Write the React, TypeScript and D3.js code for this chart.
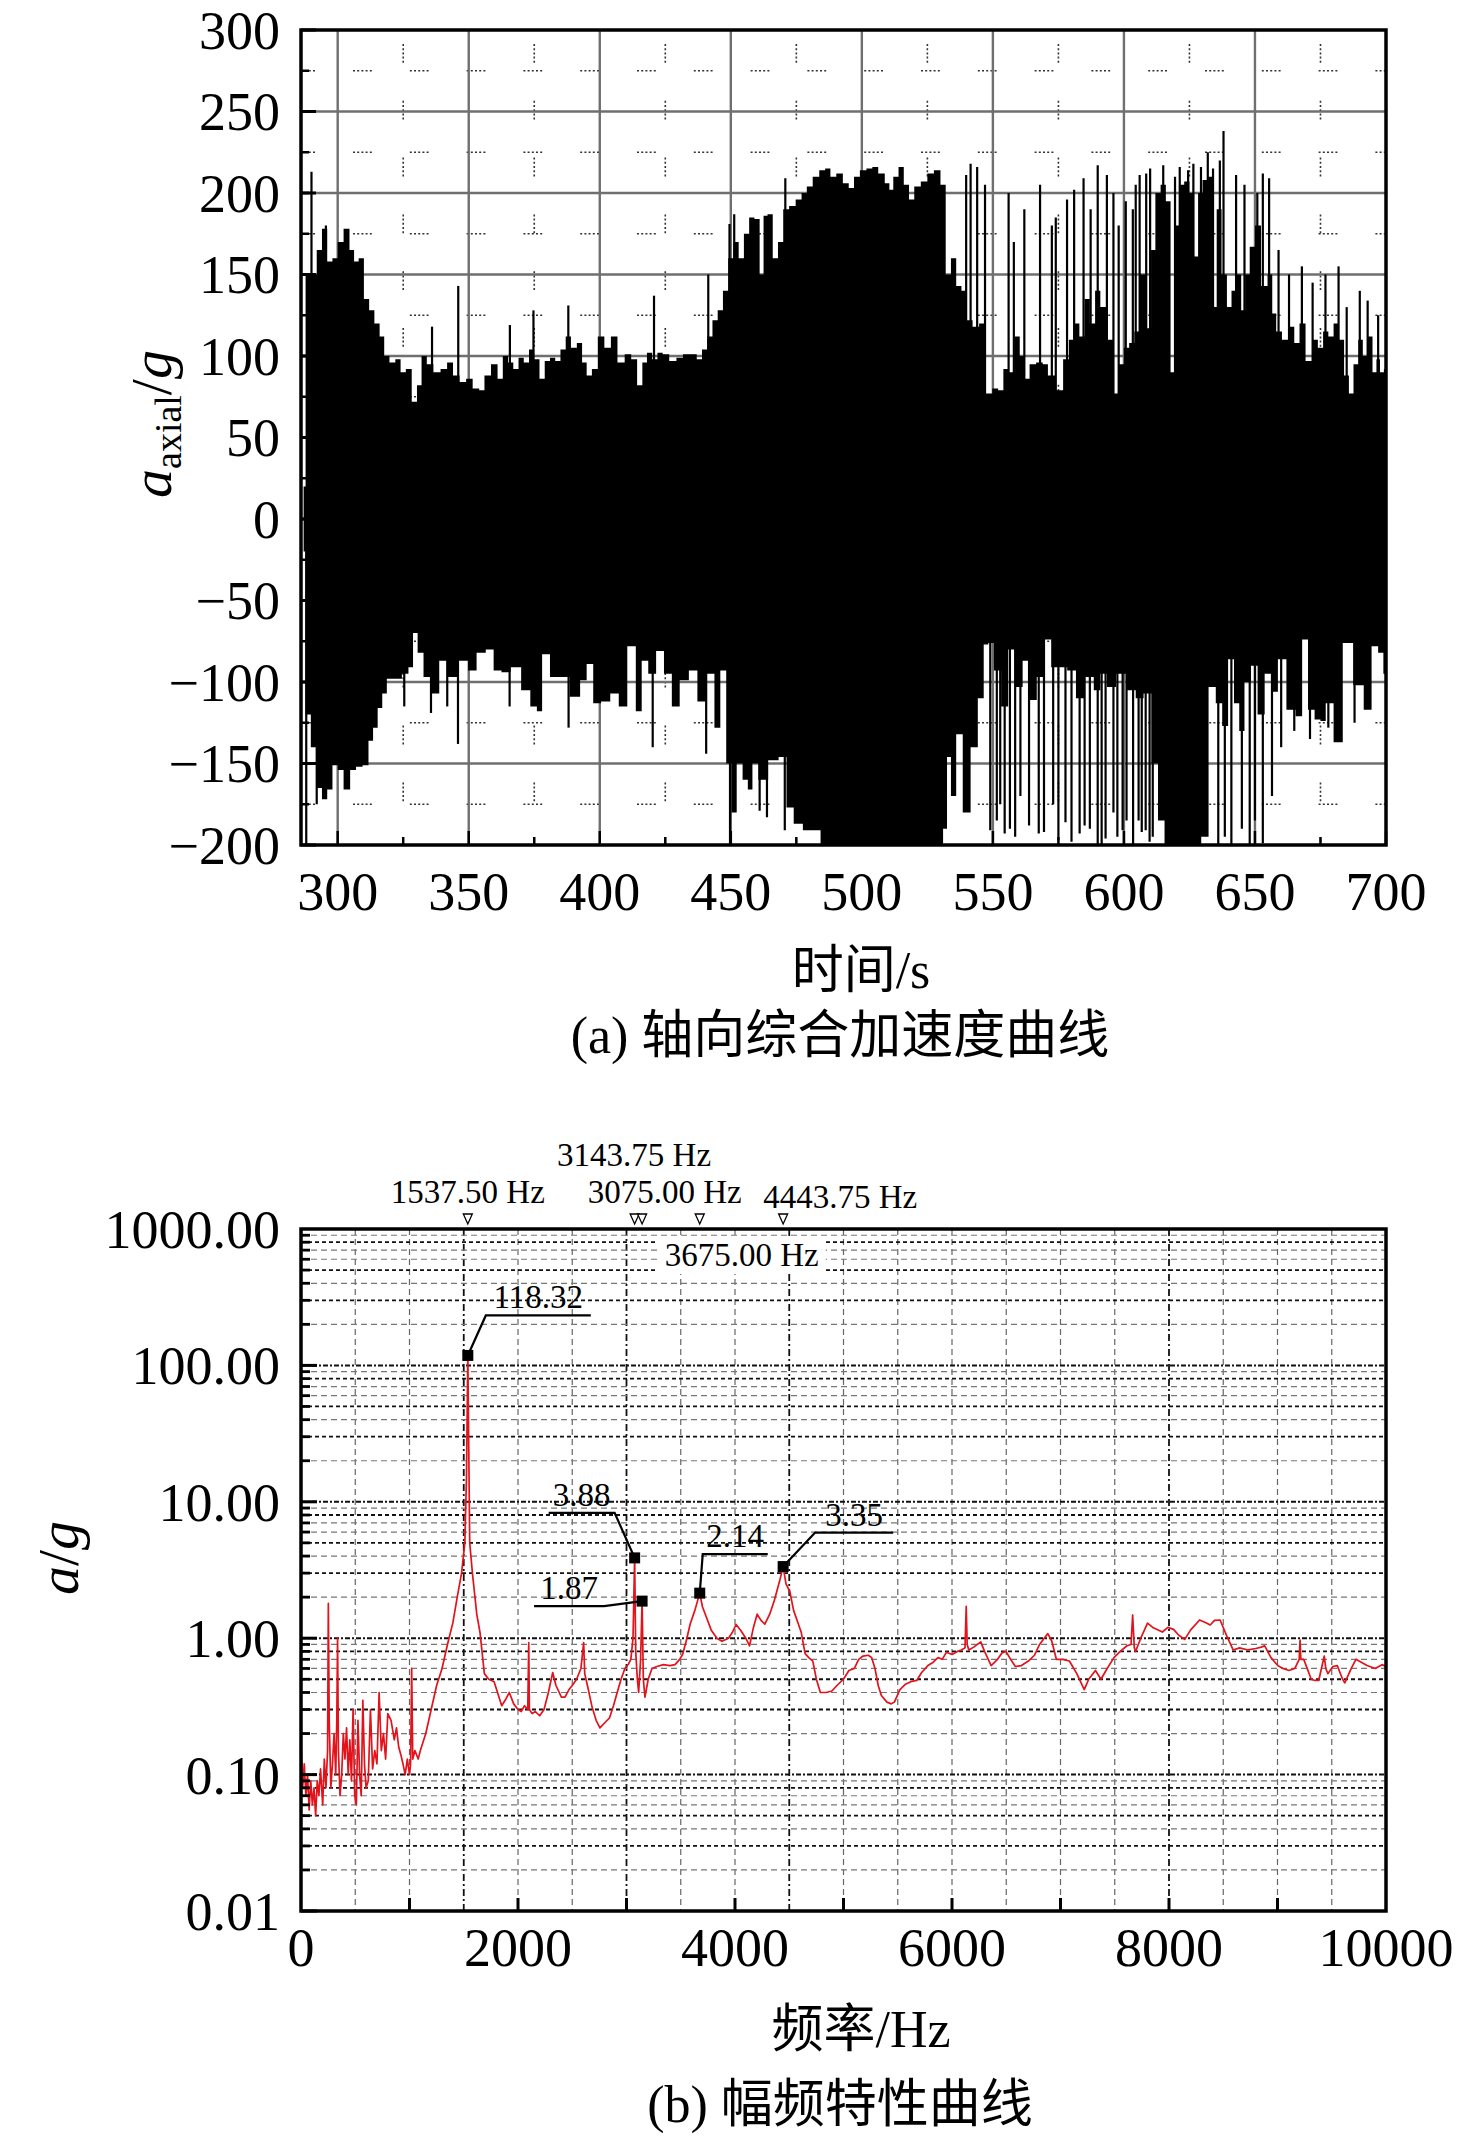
import React from 'react';
import * as d3 from 'd3';

const W = 1476;
const H = 2138;

// ---------- (a) axial acceleration: bulk envelope + spikes ----------
const upperT = [287, 288.5, 291, 293, 295, 297, 299, 301, 303.5, 305.5, 307, 309, 311, 313, 315, 317, 318.5, 321, 323, 325, 327, 329.5, 331, 333, 335, 338, 340.5, 343, 345, 348, 350, 353, 355, 357, 360, 362, 364, 366, 368, 370, 372, 374, 376, 378, 380, 382, 384, 386, 388, 390, 392.5, 394, 396, 398, 400.5, 403, 405.5, 408, 411, 413, 415.5, 417, 419, 421, 423, 425, 428, 430.5, 433, 436, 438, 440, 442, 444, 446, 448, 450, 452, 454, 456, 458, 460, 462, 463, 465, 467, 469, 471, 473.5, 476, 478, 480, 482.5, 485, 487, 489, 491.5, 494, 496, 498, 500.5, 503, 505, 507.5, 510, 511, 513, 515, 517, 519, 521, 524, 526, 529, 531, 533, 535, 537, 539, 541, 543.5, 546, 548.5, 551, 553, 555, 557, 559.5, 561, 563, 565, 568, 570, 572, 575.6, 578, 580, 582, 584, 586, 588, 590, 592, 595, 597, 599, 601, 603, 605, 607, 609.7, 611, 613, 615, 617, 618.6, 620, 622, 624, 626, 627.6, 629, 631, 633, 634.8, 636, 638.5, 640.1, 642, 644, 645.5, 647, 649, 651, 653.6, 656, 657.2, 659, 661.6, 664, 666, 668, 670.6, 673, 675, 677, 679, 681, 683, 685, 686.7, 688.5, 690.3, 692, 694, 695.7, 697, 698.4, 700];
const upperV = [20, 150, 150, 165, 178, 158, 160, 170, 178, 165, 158, 160, 135, 128, 120, 112, 100, 96, 98, 90, 92, 72, 82, 100, 95, 90, 92, 96, 88, 84, 86, 80, 79, 88, 95, 86, 100, 96, 92, 99, 96, 104, 98, 86, 97, 99, 97, 104, 112, 105, 108, 96, 88, 92, 112, 105, 112, 96, 101, 98, 82, 96, 102, 98, 102, 101, 97, 99, 101, 101, 98, 104, 112, 122, 128, 140, 160, 170, 160, 175, 185, 184, 150, 186, 187, 160, 170, 190, 192, 196, 200, 204, 210, 214, 215, 210, 212, 206, 203, 210, 214, 215, 216, 212, 206, 202, 210, 216, 205, 196, 204, 207, 212, 214, 205, 150, 160, 143, 140, 122, 118, 120, 77, 80, 79, 92, 90, 112, 100, 86, 95, 96, 95, 88, 79, 98, 110, 120, 112, 135, 120, 140, 130, 110, 77, 95, 105, 108, 115, 150, 117, 165, 200, 205, 195, 90, 180, 205, 207, 200, 161, 200, 208, 210, 130, 190, 150, 130, 140, 150, 128, 150, 167, 180, 143, 150, 126, 115, 110, 118, 108, 120, 97, 110, 105, 115, 112, 120, 110, 88, 77, 95, 110, 100, 112, 90, 98, 90, 92];

const lowerT = [287, 288.5, 291, 293, 295, 297, 299, 301, 303.5, 306, 308, 311, 312.5, 314.5, 316, 318, 319.5, 323, 326, 328, 329.5, 331.5, 334, 337.5, 340, 344, 348.5, 351, 355, 358, 361, 364, 368, 372, 375, 377, 379, 383, 386, 391, 394, 396, 399, 402, 406, 408.5, 412.5, 415, 417, 420, 423, 426, 429, 432, 436, 438.5, 442.5, 445, 447, 449.5, 451, 453.5, 455.5, 457.5, 459, 462, 466.5, 470, 472.5, 475.5, 479.5, 483.5, 485, 530, 532, 533, 535, 537, 540, 543, 545.5, 547.5, 549, 551.8, 554.5, 557.2, 560, 562.7, 565.4, 568.1, 570.9, 573.6, 576.3, 580.4, 583, 587, 590, 592, 595, 599, 603, 606, 609, 612, 614, 617, 620, 622, 625, 628, 631, 633.6, 636.5, 638.5, 641, 643, 645, 647, 650, 652, 655.4, 657.5, 660, 664, 667, 669, 671.5, 674, 676, 678, 682, 685, 690, 693, 696, 698, 700];
const lowerV = [-20, -120, -140, -165, -172, -166, -151, -154, -166, -154, -152, -151, -136, -128, -116, -107, -98, -98, -95, -91, -70, -82, -97, -107, -87, -97, -87, -93, -82, -80, -93, -94, -91, -105, -115, -118, -83, -97, -97, -109, -99, -89, -113, -112, -107, -115, -78, -118, -87, -95, -81, -95, -115, -99, -93, -112, -95, -128, -93, -150, -180, -150, -160, -166, -150, -160, -148, -146, -177, -187, -191, -191, -200, -200, -190, -146, -170, -132, -180, -140, -110, -77, -76, -93, -115, -80, -103, -87, -111, -97, -74, -91, -91, -93, -110, -97, -105, -95, -103, -95, -105, -110, -107, -150, -185, -200, -200, -200, -200, -200, -195, -103, -113, -127, -86, -113, -130, -100, -90, -120, -95, -106, -86, -117, -121, -74, -117, -123, -124, -113, -137, -76, -102, -117, -78, -82, -95];

const upSpikeT = [290, 295.5, 336, 346, 365.7, 374.7, 388, 420.7, 441.4, 449.5, 451.3, 470.8, 539.8, 541.5, 544, 547, 556, 558, 562, 568, 572.5, 574, 578.3, 581, 584.6, 587.3, 590, 593.5, 596, 598, 600.7, 603.4, 604.5, 606, 608.5, 610, 615, 619.5, 621.3, 624.5, 626.5, 629.4, 632, 634, 636.6, 638, 642.8, 646, 650.9, 653, 655.4, 659, 663, 667.9, 672, 676.9, 681.9, 685, 690, 693, 697];
const upSpikeV = [213, 180, 118, 143, 119, 128, 131, 137, 150, 181, 187, 209, 211, 218, 216, 205, 200, 170, 190, 205, 180, 185, 196, 202, 209, 190, 217, 211, 200, 180, 195, 190, 205, 211, 212, 215, 217, 210, 216, 214, 218, 216, 225, 215, 220, 238, 211, 205, 200, 212, 209, 165, 150, 155, 145, 150, 155, 130, 140, 134, 125];

const lowSpikeT = [288, 292, 325.4, 335.6, 341.8, 345.9, 365.6, 388.1, 420.2, 440.6, 449.7, 461, 463.8, 470.6, 549, 551.5, 552.8, 554.5, 556.5, 558.5, 560.5, 563.8, 567.5, 569.5, 573, 575, 577.7, 580, 583.1, 585, 587, 590, 591.5, 593, 596, 597.5, 599.5, 601, 603.5, 605.6, 606.8, 608.3, 609.8, 611, 636, 638.5, 641, 645, 648, 650, 653, 656.5, 660, 665, 671, 678, 688];
const lowSpikeV = [-200, -175, -115, -119, -115, -138, -115, -128, -140, -144, -200, -179, -183, -191, -191, -185, -175, -193, -190, -195, -170, -188, -193, -192, -175, -197, -186, -198, -193, -188, -190, -200, -200, -196, -180, -195, -191, -185, -200, -185, -192, -191, -198, -195, -200, -195, -200, -190, -200, -185, -199, -170, -140, -130, -135, -128, -125];

const timeTicks = [300, 350, 400, 450, 500, 550, 600, 650, 700];
const accelTicks = [300, 250, 200, 150, 100, 50, 0, -50, -100, -150, -200];

// ---------- (b) amplitude-frequency ----------
const freqHz = [0, 15, 30, 45, 60, 75, 90, 105, 120, 135, 150, 165, 180, 200, 215, 230, 245, 252, 260, 275, 290, 305, 320, 330, 337, 345, 360, 375, 390, 405, 420, 435, 450, 465, 480, 495, 510, 525, 540, 555, 570, 585, 600, 620, 640, 660, 680, 700, 720, 740, 760, 780, 800, 830, 860, 880, 900, 920, 940, 960, 980, 1000, 1010, 1020, 1030, 1050, 1080, 1100, 1150, 1200, 1250, 1300, 1350, 1400, 1440, 1480, 1510, 1525, 1537.5, 1545, 1555, 1580, 1620, 1650, 1690, 1730, 1780, 1820, 1850, 1890, 1920, 1960, 2000, 2030, 2060, 2090, 2099, 2105, 2130, 2160, 2200, 2240, 2280, 2320, 2350, 2400, 2433, 2470, 2500, 2540, 2580, 2605, 2615, 2640, 2684, 2720, 2755, 2800, 2843, 2880, 2914, 2950, 2985, 3020, 3040, 3060, 3075, 3085, 3100, 3112, 3130, 3143.75, 3155, 3170, 3200, 3235, 3280, 3340, 3400, 3447, 3490, 3517, 3550, 3587, 3630, 3675, 3700, 3740, 3780, 3833, 3880, 3940, 3975, 4010, 4050, 4100, 4134, 4170, 4204, 4240, 4275, 4320, 4363, 4410, 4443.75, 4470, 4505, 4540, 4580, 4611, 4646, 4680, 4717, 4750, 4787, 4840, 4893, 4940, 4999, 5050, 5100, 5140, 5180, 5229, 5260, 5290, 5320, 5349, 5400, 5440, 5469, 5520, 5572, 5620, 5675, 5720, 5778, 5820, 5870, 5910, 5949, 6000, 6050, 6086, 6120, 6131, 6140, 6155, 6200, 6265, 6300, 6361, 6420, 6460, 6498, 6540, 6584, 6640, 6704, 6760, 6807, 6850, 6883, 6920, 6962, 7020, 7082, 7150, 7219, 7260, 7322, 7373, 7430, 7493, 7550, 7613, 7650, 7665, 7680, 7692, 7740, 7802, 7850, 7900, 7939, 7990, 8042, 8090, 8145, 8200, 8282, 8340, 8380, 8419, 8471, 8530, 8591, 8650, 8728, 8800, 8850, 8882, 8940, 9002, 9050, 9105, 9160, 9200, 9208, 9215, 9242, 9311, 9345, 9380, 9431, 9445, 9465, 9510, 9551, 9600, 9620, 9680, 9723, 9780, 9826, 9900, 9963, 10000];
const ampG = [0.17, 0.08, 0.12, 0.07, 0.1, 0.055, 0.09, 0.06, 0.08, 0.05, 0.09, 0.07, 0.11, 0.06, 0.13, 0.08, 0.15, 1.8, 0.25, 0.08, 0.12, 0.2, 0.1, 0.25, 1.0, 0.15, 0.07, 0.1, 0.2, 0.13, 0.22, 0.1, 0.18, 0.09, 0.3, 0.07, 0.06, 0.25, 0.1, 0.07, 0.35, 0.12, 0.08, 0.09, 0.3, 0.11, 0.15, 0.12, 0.4, 0.15, 0.2, 0.13, 0.28, 0.25, 0.18, 0.22, 0.16, 0.14, 0.12, 0.1, 0.13, 0.1, 0.12, 0.6, 0.13, 0.15, 0.13, 0.15, 0.2, 0.3, 0.45, 0.6, 0.9, 1.3, 2.0, 3.0, 5, 15, 118.32, 30, 5, 3, 1.5, 1.1, 0.55, 0.5, 0.48, 0.38, 0.32, 0.36, 0.4, 0.33, 0.3, 0.29, 0.32, 0.3, 0.93, 0.3, 0.28, 0.29, 0.27, 0.3, 0.4, 0.56, 0.45, 0.37, 0.37, 0.42, 0.45, 0.5, 0.6, 0.93, 0.55, 0.45, 0.31, 0.25, 0.22, 0.24, 0.26, 0.32, 0.4, 0.5, 0.6, 0.65, 0.7, 1.0, 3.88, 0.8, 0.5, 0.4, 0.7, 1.87, 0.5, 0.37, 0.5, 0.6, 0.62, 0.64, 0.63, 0.64, 0.7, 0.76, 0.95, 1.27, 1.6, 2.14, 1.7, 1.4, 1.15, 1.0, 0.95, 1.0, 1.1, 1.26, 1.15, 1.0, 0.88, 1.2, 1.5, 1.35, 1.27, 1.5, 1.9, 2.6, 3.35, 2.5, 2.2, 1.6, 1.3, 1.1, 0.77, 0.72, 0.68, 0.5, 0.4, 0.4, 0.41, 0.45, 0.5, 0.58, 0.6, 0.7, 0.74, 0.75, 0.72, 0.6, 0.45, 0.38, 0.34, 0.33, 0.34, 0.42, 0.46, 0.48, 0.49, 0.56, 0.63, 0.66, 0.72, 0.7, 0.79, 0.76, 0.8, 0.82, 0.85, 1.71, 0.9, 0.82, 0.86, 0.94, 0.8, 0.63, 0.7, 0.78, 0.8, 0.7, 0.62, 0.63, 0.68, 0.75, 0.9, 1.0, 1.08, 0.95, 0.7, 0.7, 0.68, 0.55, 0.42, 0.5, 0.58, 0.5, 0.6, 0.72, 0.8, 0.88, 0.9, 1.48, 0.85, 0.8, 1.0, 1.29, 1.2, 1.15, 1.11, 1.2, 1.16, 1.05, 0.98, 1.15, 1.36, 1.3, 1.25, 1.35, 1.36, 1.05, 0.82, 0.85, 0.82, 0.84, 0.86, 0.88, 0.72, 0.63, 0.6, 0.58, 0.6, 0.7, 0.97, 0.7, 0.7, 0.5, 0.49, 0.49, 0.74, 0.6, 0.55, 0.62, 0.63, 0.5, 0.47, 0.6, 0.7, 0.66, 0.63, 0.6, 0.64, 0.62];

const peakFreq = [1537.5, 3075, 3143.75, 3675, 4443.75];
const peakAmp = [118.32, 3.88, 1.87, 2.14, 3.35];
const peakLabels = ['118.32', '3.88', '1.87', '2.14', '3.35'];
const markerFreqLabels = ['1537.50 Hz', '3075.00 Hz', '3143.75 Hz', '3675.00 Hz', '4443.75 Hz'];

const freqTicks = [0, 2000, 4000, 6000, 8000, 10000];
const ampTicks = [1000, 100, 10, 1, 0.1, 0.01];
const ampTickLabels = ['1000.00', '100.00', '10.00', '1.00', '0.10', '0.01'];

// ---------- layout ----------
const PL = 301, PR = 1386;
const A_TOP = 30, A_BOT = 845;
const B_TOP = 1229, B_BOT = 1911;
const SERIF = '"Liberation Serif", "Times New Roman", serif';
const CJK = '"Liberation Serif", "Noto Sans CJK SC", serif';

// callout layout (elbow dx, elbow dy, horizontal length)
const calloutGeom = [
  [18, -40, 105],
  [-20, -45, -66],
  [-38, 5, -70],
  [3, -39, 65],
  [32, -34, 78],
];
// marker frequency label layout (x offset from marker, baseline y)
const freqLabelGeom = [
  [0, 1203],
  [30, 1203],
  [-8, 1166],
  [42, 1266],
  [57, 1208],
];

export default function App() {
  const xt = d3.scaleLinear().domain([286, 700]).range([PL, PR]);
  const ya = d3.scaleLinear().domain([-200, 300]).range([A_BOT, A_TOP]);

  const xf = d3.scaleLinear().domain([0, 10000]).range([PL, PR]);
  const yl = d3.scaleLog().domain([0.01, 1000]).range([B_BOT, B_TOP]);

  const upperArea = d3.area<number>()
    .curve(d3.curveStep)
    .x((_, i) => xt(upperT[i]))
    .y0(() => ya(0))
    .y1((d) => ya(d))(upperV) || '';
  const lowerArea = d3.area<number>()
    .curve(d3.curveStep)
    .x((_, i) => xt(lowerT[i]))
    .y0(() => ya(0))
    .y1((d) => ya(d))(lowerV) || '';

  const specLine = d3.line<number>()
    .x((_, i) => xf(freqHz[i]))
    .y((d) => yl(d))(ampG) || '';

  // grid values for (a)
  const majorY = d3.range(-150, 300, 50);
  const minorY = d3.range(-175, 300, 50);
  const majorX = d3.range(300, 700, 50);
  const minorX = d3.range(325, 700, 50);
  const minorTickY = d3.range(-175, 300, 25);
  const minorTickX = d3.range(300, 701, 25);

  // grid values for (b)
  const vGrid = d3.range(500, 10000, 500);
  const darkV = new Set([1500, 3000, 4500, 8000]);
  const decades = [0.01, 0.1, 1, 10, 100];
  const minorLog: { v: number; dark: boolean }[] = [];
  decades.forEach((d) => {
    for (let m = 2; m <= 9; m++) minorLog.push({ v: d * m, dark: [3, 5, 8].includes(m) });
  });

  const dotted = '2,2.2,2,2.2,2,2.2,2,2.2,2,38';

  return (
    <svg width={W} height={H} viewBox={`0 0 ${W} ${H}`}
      style={{ position: 'absolute', left: 0, top: 0, background: '#fff' }}
      xmlns="http://www.w3.org/2000/svg">
      <defs>
        <clipPath id="clipA"><rect x={PL} y={A_TOP} width={PR - PL} height={A_BOT - A_TOP} /></clipPath>
        <clipPath id="clipB"><rect x={PL} y={B_TOP} width={PR - PL} height={B_BOT - B_TOP} /></clipPath>
      </defs>
      <rect x={0} y={0} width={W} height={H} fill="#fff" />

      {/* ================= (a) ================= */}
      <g>
        {minorY.map((v) => (
          <line key={'mny' + v} x1={PL} x2={PR} y1={ya(v)} y2={ya(v)} stroke="#333" strokeWidth={1.6}
            strokeDasharray={dotted} strokeDashoffset={-52} />
        ))}
        {minorX.map((t) => (
          <line key={'mnx' + t} x1={xt(t)} x2={xt(t)} y1={A_TOP} y2={A_BOT} stroke="#333" strokeWidth={1.6}
            strokeDasharray={dotted} strokeDashoffset={-14} />
        ))}
        {majorY.map((v) => (
          <line key={'mjy' + v} x1={PL} x2={PR} y1={ya(v)} y2={ya(v)} stroke="#6f6f6f" strokeWidth={2.4} />
        ))}
        {majorX.map((t) => (
          <line key={'mjx' + t} x1={xt(t)} x2={xt(t)} y1={A_TOP} y2={A_BOT} stroke="#6f6f6f" strokeWidth={2.4} />
        ))}
        <g clipPath="url(#clipA)">
          <path d={upperArea} fill="#000" />
          <path d={lowerArea} fill="#000" />
          {upSpikeT.map((t, i) => (
            <line key={'us' + i} x1={xt(t)} x2={xt(t)} y1={ya(0)} y2={ya(upSpikeV[i])} stroke="#000" strokeWidth={2.2} />
          ))}
          {lowSpikeT.map((t, i) => (
            <line key={'ls' + i} x1={xt(t)} x2={xt(t)} y1={ya(0)} y2={ya(lowSpikeV[i])} stroke="#000" strokeWidth={2.2} />
          ))}
        </g>
        {/* ticks */}
        {accelTicks.map((v) => (
          <line key={'ty' + v} x1={PL} x2={PL + 15} y1={ya(v)} y2={ya(v)} stroke="#000" strokeWidth={3} />
        ))}
        {minorTickY.map((v) => (
          <line key={'tmy' + v} x1={PL} x2={PL + 8} y1={ya(v)} y2={ya(v)} stroke="#000" strokeWidth={2.5} />
        ))}
        {minorTickX.map((t) => (
          <line key={'tx' + t} x1={xt(t)} x2={xt(t)} y1={A_BOT} y2={A_BOT - (t % 50 === 0 ? 14 : 8)} stroke="#000" strokeWidth={2.5} />
        ))}
        <rect x={PL} y={A_TOP} width={PR - PL} height={A_BOT - A_TOP} fill="none" stroke="#000" strokeWidth={3.5} />
        {accelTicks.map((v) => (
          <text key={'ly' + v} x={280} y={ya(v)} dy="0.35em" textAnchor="end" fontFamily={SERIF} fontSize={54}>
            {v < 0 ? '\u2212' + Math.abs(v) : String(v)}
          </text>
        ))}
        {timeTicks.map((t) => (
          <text key={'lx' + t} x={xt(t)} y={910} textAnchor="middle" fontFamily={SERIF} fontSize={54}>{t}</text>
        ))}
        <text transform="translate(171,424) rotate(-90)" textAnchor="middle" fontFamily={SERIF} fontSize={58}>
          <tspan fontStyle="italic">a</tspan>
          <tspan fontSize={38} dy={10}>axial</tspan>
          <tspan dy={-10}>/</tspan>
          <tspan fontStyle="italic">g</tspan>
        </text>
        <text x={861} y={988} textAnchor="middle" fontFamily={CJK} fontSize={52}>时间/s</text>
        <text x={840} y={1053} textAnchor="middle" fontFamily={CJK} fontSize={52}>(a) 轴向综合加速度曲线</text>
      </g>

      {/* ================= (b) ================= */}
      <g>
        {vGrid.map((f) => (
          <line key={'vg' + f} x1={xf(f)} x2={xf(f)} y1={B_TOP} y2={B_BOT}
            stroke={darkV.has(f) ? '#111' : '#666'} strokeWidth={darkV.has(f) ? 1.8 : 1.2}
            strokeDasharray={darkV.has(f) ? '7,3,2,3' : '6,4'} />
        ))}
        {minorLog.map((m, i) => (
          <line key={'hg' + i} x1={PL} x2={PR} y1={yl(m.v)} y2={yl(m.v)}
            stroke={m.dark ? '#111' : '#777'} strokeWidth={m.dark ? 1.8 : 1.2}
            strokeDasharray={m.dark ? '4,3' : '6,4'} />
        ))}
        {decades.slice(1).map((d) => (
          <line key={'dg' + d} x1={PL} x2={PR} y1={yl(d)} y2={yl(d)} stroke="#111" strokeWidth={2}
            strokeDasharray="5,2,2,2" />
        ))}
        <g clipPath="url(#clipB)">
          <path d={specLine} fill="none" stroke="#e3121b" strokeWidth={1.7} strokeLinejoin="round" />
        </g>
        {/* left ticks */}
        {decades.map((d) => (
          <line key={'ld' + d} x1={PL} x2={PL + 16} y1={yl(d)} y2={yl(d)} stroke="#000" strokeWidth={3} />
        ))}
        {minorLog.map((m, i) => (
          <line key={'lm' + i} x1={PL} x2={PL + 9} y1={yl(m.v)} y2={yl(m.v)} stroke="#000" strokeWidth={2.8} />
        ))}
        {d3.range(1000, 10000, 1000).map((f) => (
          <line key={'bt' + f} x1={xf(f)} x2={xf(f)} y1={B_BOT} y2={B_BOT - 13} stroke="#000" strokeWidth={3} />
        ))}
        <rect x={PL} y={B_TOP} width={PR - PL} height={B_BOT - B_TOP} fill="none" stroke="#000" strokeWidth={3.5} />

        {/* marker triangles above plot */}
        {peakFreq.map((f, i) => {
          const x = xf(f);
          return (
            <path key={'tri' + i} d={`M${x - 4.5},${B_TOP - 15} L${x + 4.5},${B_TOP - 15} L${x},${B_TOP - 5} Z`}
              fill="#fff" stroke="#000" strokeWidth={1.3} />
          );
        })}
        {/* marker frequency labels */}
        {markerFreqLabels.map((s, i) => {
          const x = xf(peakFreq[i]) + freqLabelGeom[i][0];
          const y = freqLabelGeom[i][1];
          const inside = y > B_TOP;
          return (
            <g key={'fl' + i}>
              {inside && <rect x={x - 84} y={y - 28} width={168} height={36} fill="#fff" />}
              <text x={x} y={y} textAnchor="middle" fontFamily={SERIF} fontSize={33}>{s}</text>
            </g>
          );
        })}
        {/* callouts */}
        {peakFreq.map((f, i) => {
          const px = xf(f);
          const py = yl(peakAmp[i]);
          const [dx, dy, len] = calloutGeom[i];
          const ex = px + dx;
          const ey = py + dy;
          const hx = ex + len;
          const cx = (ex + hx) / 2;
          return (
            <g key={'co' + i}>
              <polyline points={`${px},${py} ${ex},${ey} ${hx},${ey}`} fill="none" stroke="#000" strokeWidth={2.2} />
              <rect x={px - 5.5} y={py - 5.5} width={11} height={11} fill="#000" />
              <text x={cx} y={ey - 7} textAnchor="middle" fontFamily={SERIF} fontSize={33}>{peakLabels[i]}</text>
            </g>
          );
        })}
        {ampTicks.map((v, i) => (
          <text key={'al' + i} x={280} y={yl(v)} dy="0.35em" textAnchor="end" fontFamily={SERIF} fontSize={54}>{ampTickLabels[i]}</text>
        ))}
        {freqTicks.map((f) => (
          <text key={'fl2' + f} x={xf(f)} y={1966} textAnchor="middle" fontFamily={SERIF} fontSize={54}>{f}</text>
        ))}
        <text transform="translate(78,1558) rotate(-90)" textAnchor="middle" fontFamily={SERIF} fontSize={58}>
          <tspan fontStyle="italic">a</tspan>
          <tspan>/</tspan>
          <tspan fontStyle="italic">g</tspan>
        </text>
        <text x={861} y={2047} textAnchor="middle" fontFamily={CJK} fontSize={52}>频率/Hz</text>
        <text x={840} y={2122} textAnchor="middle" fontFamily={CJK} fontSize={52}>(b) 幅频特性曲线</text>
      </g>
    </svg>
  );
}
